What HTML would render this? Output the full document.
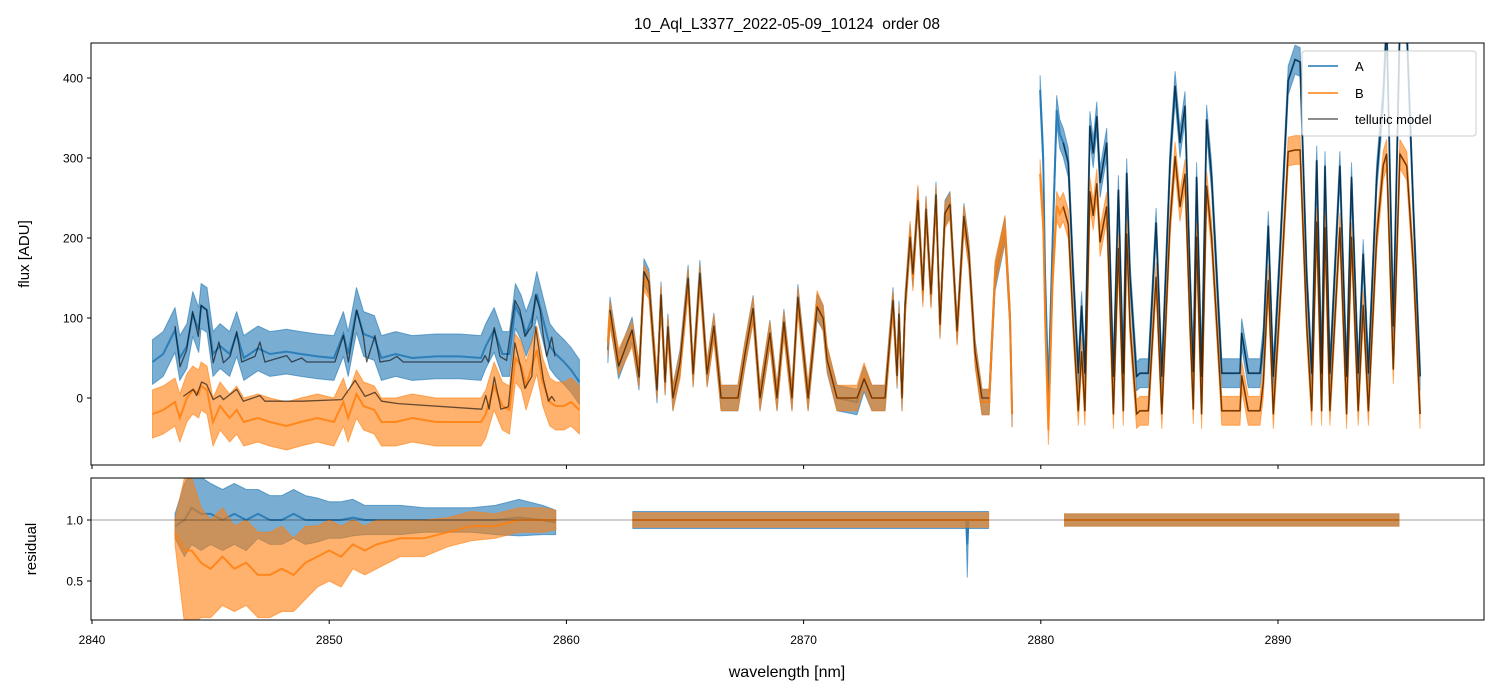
<!DOCTYPE html>
<html><head><meta charset="utf-8">
<style>
body{margin:0;background:#fff;}
svg{display:block;font-family:"Liberation Sans","DejaVu Sans",sans-serif;}
</style></head>
<body>
<svg id="chart" width="1499" height="696" viewBox="0 0 1499 696" xmlns="http://www.w3.org/2000/svg">
<defs>
<clipPath id="clipTop"><rect x="91" y="43" width="1393" height="422"/></clipPath>
<clipPath id="clipBot"><rect x="91" y="478" width="1393" height="142"/></clipPath>
</defs>
<rect width="1499" height="696" fill="#fff"/>
<text x="787" y="29" font-size="15.5" text-anchor="middle" fill="#000" style="white-space:pre" xml:space="preserve">10_Aql_L3377_2022-05-09_10124  order 08</text>
<g id="topPanel" clip-path="url(#clipTop)"></g>
<g id="botPanel" clip-path="url(#clipBot)"></g>
<g id="axesG"></g>
<rect x="91" y="43" width="1393" height="422" fill="none" stroke="#000" stroke-width="1"/>
<rect x="91" y="478" width="1393" height="142" fill="none" stroke="#000" stroke-width="1"/>
<text transform="translate(29,254) rotate(-90)" font-size="15" text-anchor="middle">flux [ADU]</text>
<text transform="translate(36,549) rotate(-90)" font-size="15" text-anchor="middle">residual</text>
<text x="787" y="677" font-size="16" text-anchor="middle">wavelength [nm]</text>
<g>
<rect x="1302" y="51" width="174" height="85" rx="3" fill="#fff" fill-opacity="0.8" stroke="#ccc"/>
<line x1="1308" y1="66" x2="1338" y2="66" stroke="#1f77b4" stroke-width="1.5"/>
<text x="1355" y="71" font-size="13">A</text>
<line x1="1308" y1="93" x2="1338" y2="93" stroke="#ff7f0e" stroke-width="1.5"/>
<text x="1355" y="98" font-size="13">B</text>
<line x1="1308" y1="119" x2="1338" y2="119" stroke="#000" stroke-opacity="0.6" stroke-width="1.5"/>
<text x="1355" y="124" font-size="13">telluric model</text>
</g>
</svg>
<script>
// ---- data ----
const xTicks = [2840, 2850, 2860, 2870, 2880, 2890];
const yTicksFlux = [0, 100, 200, 300, 400];
const yTicksResid = [0.5, 1.0];
const yTickLabelsResid = ["0.5", "1.0"];

// segment 1 data
const wl1 = [2842.55,2843.0,2843.5,2843.7,2844.0,2844.25,2844.5,2844.6,2844.85,2845.1,2845.4,2845.8,2846.1,2846.4,2847.0,2847.5,2848.2,2848.8,2849.5,2850.2,2850.6,2850.8,2851.15,2851.45,2851.9,2852.2,2852.8,2853.5,2854.5,2855.5,2856.4,2856.6,2856.95,2857.3,2857.6,2857.85,2858.1,2858.3,2858.55,2858.75,2859.0,2859.3,2859.55,2859.9,2860.2,2860.55];
const fluxA1 = [45,55,85,50,65,105,85,115,110,55,65,55,80,50,62,55,58,55,52,50,80,55,110,80,75,50,55,50,52,52,50,65,85,55,55,115,100,80,100,130,100,65,55,45,35,20];
const fluxB1 = [-20,-15,-5,-25,0,10,5,15,10,-30,-10,-25,-15,-30,-25,-30,-35,-30,-25,-30,-5,-25,5,-10,-15,-30,-30,-25,-30,-30,-30,-20,15,-10,-15,50,40,15,40,60,20,-5,-10,-10,-5,-15];
// segment 1 telluric models
const mwlA1 = [2843.50,2843.71,2843.99,2844.24,2844.48,2844.60,2844.83,2845.11,2845.35,2845.54,2845.82,2846.10,2846.31,2846.87,2847.08,2847.29,2848.21,2848.42,2848.84,2849.05,2850.24,2850.60,2850.81,2851.16,2851.44,2851.58,2851.93,2852.14,2852.56,2852.85,2853.12,2856.43,2856.57,2856.71,2856.96,2857.20,2857.48,2857.83,2858.04,2858.25,2858.54,2858.70,2858.89,2859.03,2859.17,2859.38,2859.52];
const modelA1 = [90,39,60,108,77,116,110,44,70,44,52,83,45,52,70,45,53,45,50,45,45,78,45,110,77,45,78,45,47,52,45,45,53,45,88,52,47,122,110,77,90,129,110,77,52,76,52];
const mwlB1 = [2843.85,2844.27,2844.41,2844.62,2844.83,2845.11,2845.40,2845.54,2846.10,2846.38,2847.08,2847.29,2848.84,2850.53,2851.09,2851.51,2851.93,2852.21,2852.91,2856.43,2856.60,2856.74,2856.96,2857.24,2857.55,2857.83,2858.04,2858.25,2858.54,2858.70,2858.89,2859.03,2859.24,2859.38,2859.52];
const modelB1 = [2,11,3,20,17,-2,3,-2,11,-4,3,-4,-4,-2,22,2,7,-4,-7,-14,3,-14,26,-14,-11,69,43,12,27,89,51,23,-4,2,-4];

// segment 2
const wl2 = [2861.75,2861.84,2862.2,2862.77,2863.06,2863.27,2863.48,2863.82,2863.99,2864.16,2864.28,2864.49,2864.79,2865.13,2865.34,2865.63,2865.93,2866.22,2866.52,2867.23,2867.53,2867.87,2868.16,2868.58,2868.88,2869.17,2869.51,2869.76,2870.19,2870.57,2870.82,2870.99,2871.41,2872.25,2872.55,2872.88,2873.43,2873.77,2873.94,2874.02,2874.15,2874.28,2874.49,2874.61,2874.82,2875.03,2875.16,2875.37,2875.58,2875.75,2875.96,2876.17,2876.47,2876.76,2876.97,2877.23,2877.52,2877.82,2878.07,2878.49,2878.70,2878.79];
const fluxA2 = [60,110,40,85,26,158,145,10,129,20,89,0,44,150,30,156,30,90,0,0,55,112,0,81,0,95,0,126,0,114,100,48,0,-5,24,0,0,122,28,105,0,116,201,155,247,135,236,130,254,92,231,242,84,227,180,57,-5,-5,150,210,100,-20];
const fluxB2 = [70,105,45,80,30,150,140,15,125,20,85,0,40,145,30,150,30,88,0,0,55,110,0,80,0,92,0,122,0,118,100,50,0,0,28,0,0,118,30,100,0,112,205,150,250,130,235,128,250,90,228,240,82,225,178,55,-5,-5,155,212,100,-20];
const mwl2 = wl2.slice(1, 58);
const model2 = [110,40,85,26,158,145,10,129,20,89,0,44,150,30,156,30,90,0,0,55,112,0,81,0,95,0,126,0,114,100,48,0,0,24,0,0,122,28,105,0,116,201,155,247,135,236,130,254,92,231,242,84,227,180,57,0,0];

// segment 3
const wl3 = [2879.97,2880.1,2880.18,2880.32,2880.5,2880.67,2880.8,2880.95,2881.16,2881.37,2881.58,2881.72,2881.86,2882.07,2882.21,2882.36,2882.50,2882.78,2883.06,2883.27,2883.48,2883.62,2883.76,2884.04,2884.18,2884.53,2884.86,2885.10,2885.45,2885.66,2885.87,2886.08,2886.29,2886.43,2886.57,2886.78,2886.99,2887.20,2887.42,2887.63,2888.40,2888.47,2888.75,2889.24,2889.38,2889.59,2889.80,2890.08,2890.43,2890.72,2890.93,2891.21,2891.42,2891.63,2891.84,2891.98,2892.19,2892.61,2892.89,2893.10,2893.38,2893.59,2893.81,2894.16,2894.44,2894.58,2894.86,2895.14,2895.43,2895.71,2895.99];
const fluxA3 = [385,300,152,6,200,360,330,319,294,152,31,115,31,340,306,352,269,319,27,260,31,281,152,27,31,31,219,27,297,390,319,365,152,33,276,27,348,276,152,31,31,81,31,31,70,215,27,180,397,423,420,152,31,297,31,290,31,290,27,276,31,180,31,276,377,470,90,470,460,235,27];
const fluxB3 = [280,220,100,-40,150,240,230,239,217,91,-16,58,-16,258,228,268,195,239,-20,187,-16,205,91,-20,-16,-16,151,-20,220,302,239,280,91,-14,201,-20,265,201,91,-16,-16,28,-16,-16,19,147,-20,116,308,310,310,91,-16,220,-16,213,-16,213,-20,201,-16,116,-16,201,291,305,36,305,290,165,-20];
const mwl3 = wl3.slice(7);
const modelA3 = [319,294,152,31,115,31,340,306,352,269,319,27,260,31,281,152,27,31,31,219,27,297,390,319,365,152,33,276,27,348,276,152,31,31,81,31,31,70,215,27,180,397,423,420,152,31,297,31,290,31,290,27,276,31,180,31,276,377,470,90,470,460,235,27];
const modelB3 = [239,217,91,-16,58,-16,258,228,268,195,239,-20,187,-16,205,91,-20,-16,-16,151,-20,220,302,239,280,91,-14,201,-20,265,201,91,-16,-16,28,-16,-16,19,147,-20,116,308,310,310,91,-16,220,-16,213,-16,213,-20,201,-16,116,-16,201,291,305,36,305,290,165,-20];

const noiseA = [28, 16, 18];
const noiseB = [30, 16, 18];

// residuals
const rwl1 = [2843.5,2843.9,2844.2,2844.6,2845.0,2845.5,2846,2846.5,2847,2847.5,2848,2848.5,2849,2849.5,2850,2850.5,2851,2851.5,2852,2853,2854,2855,2856,2857,2858,2859,2859.55];
const resA1 = [0.95,1.0,1.1,1.05,1.05,1.0,1.05,1.0,1.05,1.0,1.0,1.05,1.0,1.0,1.0,1.0,1.02,1.0,1.0,1.0,1.0,1.0,1.0,1.0,1.02,1.0,0.98];
const resAw1 = [0.1,0.3,0.3,0.3,0.25,0.25,0.25,0.25,0.2,0.2,0.2,0.2,0.2,0.18,0.15,0.15,0.15,0.12,0.12,0.12,0.1,0.1,0.1,0.12,0.15,0.12,0.1];
const resB1 = [0.9,0.75,0.75,0.65,0.6,0.7,0.6,0.65,0.55,0.55,0.6,0.55,0.65,0.7,0.75,0.7,0.8,0.75,0.8,0.85,0.85,0.9,0.95,0.95,1.0,1.0,1.0];
const resBw1 = [0.1,0.6,0.6,0.45,0.4,0.4,0.35,0.35,0.35,0.35,0.35,0.3,0.3,0.25,0.25,0.25,0.2,0.2,0.2,0.15,0.15,0.12,0.12,0.1,0.1,0.1,0.08];
const rwl2 = [2862.8,2866,2870,2874,2876.85,2876.9,2876.95,2877.8];
const resA2 = [1.0,1.0,1.0,1.0,1.0,0.8,1.0,1.0];
const resAw2 = [0.07,0.07,0.07,0.07,0.07,0.27,0.07,0.07];
const resB2 = [1.0,1.0,1.0,1.0,1.0,1.0,1.0,1.0];
const resBw2 = [0.06,0.06,0.06,0.06,0.06,0.06,0.06,0.06];
const rwl3 = [2881.0,2885,2890,2895.1];
const resA3 = [1.0,1.0,1.0,1.0];
const resAw3 = [0.05,0.05,0.05,0.05];
const resB3 = [1.0,1.0,1.0,1.0];
const resBw3 = [0.05,0.05,0.05,0.05];

// ---- scales ----
const NS = 'http://www.w3.org/2000/svg';
function xs(w){ return 92 + (w - 2840) * 23.72; }
function yf(v){ return 398 - v * 0.8; }
function yr(v){ return 520 - (v - 1) * 122; }
const topG = document.getElementById('topPanel');
const botG = document.getElementById('botPanel');
const axesG = document.getElementById('axesG');

function mk(tag, attrs, parent){
  const el = document.createElementNS(NS, tag);
  for (const k in attrs) el.setAttribute(k, attrs[k]);
  parent.appendChild(el);
  return el;
}
function bandPts(wl, c, w, ys){
  const up = wl.map((x,i)=>xs(x).toFixed(1)+','+ys(c[i]+(Array.isArray(w)?w[i]:w)).toFixed(1));
  const lo = wl.map((x,i)=>xs(x).toFixed(1)+','+ys(c[i]-(Array.isArray(w)?w[i]:w)).toFixed(1)).reverse();
  return up.concat(lo).join(' ');
}
function linePts(wl, c, ys){
  return wl.map((x,i)=>xs(x).toFixed(1)+','+ys(c[i]).toFixed(1)).join(' ');
}
function drawSeries(parent, wl, c, w, ys, color, name){
  const b = mk('polygon', {points: bandPts(wl,c,w,ys), fill: color, 'fill-opacity': 0.6, stroke: color, 'stroke-opacity': 0.6, 'stroke-width': 1, 'stroke-linejoin':'round'}, parent);
  
  
  const l = mk('polyline', {points: linePts(wl,c,ys), fill: 'none', stroke: color, 'stroke-opacity': 0.85, 'stroke-width': 2}, parent);
  
  
}
function drawModel(parent, wl, c, name){
  const l = mk('polyline', {points: linePts(wl,c,yf), fill: 'none', stroke: '#000', 'stroke-opacity': 0.6, 'stroke-width': 1.3, 'stroke-linejoin':'round'}, parent);
  
  
}

const BLUE = '#1f77b4', ORANGE = '#ff7f0e';
drawSeries(topG, wl1, fluxA1, noiseA[0], yf, BLUE, 'series-a-seg1');
drawSeries(topG, wl2, fluxA2, noiseA[1], yf, BLUE, 'series-a-seg2');
drawSeries(topG, wl3, fluxA3, noiseA[2], yf, BLUE, 'series-a-seg3');
drawSeries(topG, wl1, fluxB1, noiseB[0], yf, ORANGE, 'series-b-seg1');
drawSeries(topG, wl2, fluxB2, noiseB[1], yf, ORANGE, 'series-b-seg2');
drawSeries(topG, wl3, fluxB3, noiseB[2], yf, ORANGE, 'series-b-seg3');
drawModel(topG, mwlA1, modelA1, 'telluric-model-a-seg1');
drawModel(topG, mwlB1, modelB1, 'telluric-model-b-seg1');
drawModel(topG, mwl2, model2, 'telluric-model-seg2');
drawModel(topG, mwl3, modelA3, 'telluric-model-a-seg3');
drawModel(topG, mwl3, modelB3, 'telluric-model-b-seg3');

drawSeries(botG, rwl1, resA1, resAw1, yr, BLUE, 'residual-a-seg1');
drawSeries(botG, rwl2, resA2, resAw2, yr, BLUE, 'residual-a-seg2');
drawSeries(botG, rwl3, resA3, resAw3, yr, BLUE, 'residual-a-seg3');
drawSeries(botG, rwl1, resB1, resBw1, yr, ORANGE, 'residual-b-seg1');
drawSeries(botG, rwl2, resB2, resBw2, yr, ORANGE, 'residual-b-seg2');
drawSeries(botG, rwl3, resB3, resBw3, yr, ORANGE, 'residual-b-seg3');
const ref = mk('line', {x1: 91, x2: 1484, y1: yr(1), y2: yr(1), stroke: '#000', 'stroke-opacity': 0.5, 'stroke-width': 0.8}, botG);



xTicks.forEach(t=>{
  const x = xs(t);
  const t1 = mk('line', {x1:x, x2:x, y1:465, y2:469, stroke:'#000'}, axesG);
  
  
  const t2 = mk('line', {x1:x, x2:x, y1:620, y2:624, stroke:'#000'}, axesG);
  
  
  const lb = mk('text', {x:x, y:644, 'font-size':12, 'text-anchor':'middle'}, axesG);
  lb.textContent = t;
  
  
});
yTicksFlux.forEach(t=>{
  const y = yf(t);
  const tk = mk('line', {x1:87, x2:91, y1:y, y2:y, stroke:'#000'}, axesG);
  
  
  const lb = mk('text', {x:83, y:y+4.5, 'font-size':12, 'text-anchor':'end'}, axesG);
  lb.textContent = t;
  
  
});
yTicksResid.forEach((t,i)=>{
  const y = yr(t);
  const tk = mk('line', {x1:87, x2:91, y1:y, y2:y, stroke:'#000'}, axesG);
  
  
  const lb = mk('text', {x:83, y:y+4.5, 'font-size':12, 'text-anchor':'end'}, axesG);
  lb.textContent = yTickLabelsResid[i];
  
  
});
</script>
</body></html>
